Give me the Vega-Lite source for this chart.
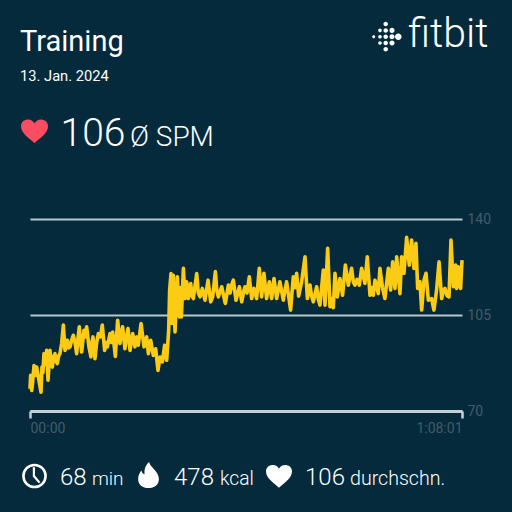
{
"$schema":"https://vega.github.io/schema/vega-lite/v6.json",
"autosize":"none","width":432,"height":192,
"padding":{"left":30,"top":219,"right":50,"bottom":101},
"background":"#042a3c",
"config":{"view":{"stroke":null},"font":"Roboto"},
"data":{"values":[
{"t":0,"v":78.1},{"t":6,"v":83},{"t":16,"v":77.5},{"t":25,"v":80.6},{"t":38,"v":86.6},{"t":50,"v":83},{"t":63,"v":86},{"t":79,"v":82.4},{"t":104,"v":76.9},{"t":113,"v":86},{"t":122,"v":84},{"t":132,"v":90.9},{"t":145,"v":87},{"t":157,"v":92.1},{"t":170,"v":81.2},{"t":189,"v":92.1},{"t":200,"v":87},{"t":211,"v":86},{"t":225,"v":90},{"t":236,"v":90.9},{"t":248,"v":88},{"t":258,"v":87.3},{"t":270,"v":90},{"t":283,"v":90.9},{"t":299,"v":94.6},{"t":315,"v":101.3},{"t":331,"v":92.1},{"t":342,"v":95},{"t":353,"v":95.8},{"t":365,"v":93},{"t":378,"v":93.4},{"t":395,"v":96},{"t":409,"v":97.6},{"t":425,"v":95},{"t":441,"v":90.9},{"t":452,"v":96},{"t":466,"v":100.7},{"t":478,"v":95},{"t":488,"v":91.5},{"t":510,"v":99.4},{"t":522,"v":97},{"t":535,"v":100.7},{"t":557,"v":93.4},{"t":576,"v":89.7},{"t":585,"v":95},{"t":595,"v":97},{"t":614,"v":89.1},{"t":630,"v":95},{"t":646,"v":98.2},{"t":665,"v":97},{"t":683,"v":101.3},{"t":705,"v":92.1},{"t":720,"v":95},{"t":731,"v":93.4},{"t":756,"v":98.2},{"t":768,"v":95},{"t":781,"v":98.8},{"t":806,"v":89.9},{"t":828,"v":103.1},{"t":850,"v":94.6},{"t":862,"v":98},{"t":875,"v":100.7},{"t":897,"v":92.7},{"t":912,"v":97},{"t":926,"v":100.1},{"t":945,"v":92.1},{"t":970,"v":98.2},{"t":992,"v":93.4},{"t":1008,"v":97},{"t":1023,"v":94},{"t":1049,"v":101.9},{"t":1077,"v":93.4},{"t":1090,"v":96},{"t":1102,"v":97},{"t":1118,"v":90.9},{"t":1140,"v":95.8},{"t":1165,"v":90.3},{"t":1187,"v":92.7},{"t":1209,"v":84.8},{"t":1228,"v":89.7},{"t":1250,"v":87.9},{"t":1272,"v":94},{"t":1291,"v":88.5},{"t":1310,"v":99.4},{"t":1319,"v":114},{"t":1332,"v":120.1},{"t":1341,"v":101.9},{"t":1354,"v":119.5},{"t":1370,"v":98.8},{"t":1392,"v":118.9},{"t":1411,"v":104.3},{"t":1420,"v":115},{"t":1430,"v":104.3},{"t":1449,"v":122},{"t":1464,"v":111},{"t":1480,"v":117.1},{"t":1496,"v":111},{"t":1518,"v":116.5},{"t":1530,"v":112},{"t":1543,"v":111},{"t":1575,"v":120.1},{"t":1590,"v":113},{"t":1606,"v":111.6},{"t":1628,"v":114.7},{"t":1653,"v":110.4},{"t":1682,"v":117.7},{"t":1707,"v":109.8},{"t":1726,"v":111.6},{"t":1751,"v":120.8},{"t":1765,"v":114},{"t":1779,"v":111.6},{"t":1811,"v":115.3},{"t":1845,"v":109.2},{"t":1874,"v":115.9},{"t":1890,"v":113},{"t":1905,"v":116},{"t":1921,"v":117.7},{"t":1946,"v":110.4},{"t":1978,"v":115.3},{"t":2000,"v":109.8},{"t":2015,"v":113},{"t":2031,"v":115.3},{"t":2050,"v":113},{"t":2072,"v":118.9},{"t":2094,"v":111},{"t":2116,"v":114.7},{"t":2141,"v":111},{"t":2166,"v":122},{"t":2188,"v":111.6},{"t":2210,"v":120.2},{"t":2235,"v":111},{"t":2261,"v":117.1},{"t":2283,"v":111},{"t":2305,"v":118.3},{"t":2330,"v":111},{"t":2345,"v":114},{"t":2361,"v":117.1},{"t":2393,"v":110.4},{"t":2408,"v":114},{"t":2424,"v":117.1},{"t":2462,"v":106.8},{"t":2487,"v":118.9},{"t":2505,"v":115},{"t":2519,"v":120.2},{"t":2538,"v":111.9},{"t":2566,"v":117.1},{"t":2598,"v":126.2},{"t":2620,"v":111},{"t":2645,"v":115.9},{"t":2660,"v":112},{"t":2676,"v":109.8},{"t":2708,"v":115.3},{"t":2722,"v":111},{"t":2739,"v":108.6},{"t":2771,"v":121.4},{"t":2787,"v":108.6},{"t":2812,"v":129.3},{"t":2834,"v":108},{"t":2850,"v":111},{"t":2865,"v":107.7},{"t":2881,"v":120.2},{"t":2903,"v":111.6},{"t":2928,"v":118.3},{"t":2953,"v":112.2},{"t":2979,"v":123.2},{"t":3007,"v":115.9},{"t":3022,"v":119},{"t":3038,"v":122},{"t":3055,"v":117},{"t":3070,"v":115.9},{"t":3090,"v":118},{"t":3111,"v":115.9},{"t":3133,"v":122},{"t":3164,"v":116.5},{"t":3186,"v":126.2},{"t":3212,"v":112.2},{"t":3228,"v":115},{"t":3243,"v":112.2},{"t":3259,"v":117.7},{"t":3290,"v":112.8},{"t":3306,"v":122},{"t":3330,"v":115},{"t":3353,"v":111},{"t":3370,"v":117},{"t":3385,"v":122},{"t":3407,"v":114.1},{"t":3426,"v":124.4},{"t":3448,"v":114.7},{"t":3464,"v":126.2},{"t":3495,"v":112.8},{"t":3511,"v":126.2},{"t":3533,"v":120.2},{"t":3558,"v":133.3},{"t":3583,"v":123.2},{"t":3605,"v":132.3},{"t":3627,"v":122},{"t":3646,"v":131.1},{"t":3662,"v":114.7},{"t":3684,"v":117.1},{"t":3700,"v":106.8},{"t":3722,"v":117.7},{"t":3741,"v":120.2},{"t":3763,"v":110.4},{"t":3794,"v":111},{"t":3816,"v":106.8},{"t":3841,"v":114.1},{"t":3864,"v":124.4},{"t":3889,"v":111},{"t":3905,"v":114},{"t":3920,"v":114.7},{"t":3940,"v":112},{"t":3958,"v":111.6},{"t":3977,"v":132.3},{"t":3999,"v":115.3},{"t":4010,"v":120},{"t":4021,"v":123.2},{"t":4030,"v":114.7},{"t":4045,"v":122.6},{"t":4058,"v":116},{"t":4068,"v":114.7},{"t":4081,"v":125}
]},
"layer":[
{"mark":{"type":"line","color":"#fccb14","strokeWidth":3.6,"strokeJoin":"round","clip":false},
"encoding":{
"x":{"field":"t","type":"quantitative","title":null,"scale":{"domain":[0,4081],"nice":false,"zero":false},
"axis":{"values":[0,4081],"labelExpr":"datum.value==0?'00:00':'1:08:01'","labelAlign":{"condition":{"test":"datum.value==0","value":"left"},"value":"right"},"grid":false,"domainColor":"#c3d0d8","domainWidth":3,"tickColor":"#c3d0d8","tickWidth":2.5,"tickSize":7,"labelColor":"#465b69","labelFontSize":14,"labelPadding":3,"labelFlush":false}},
"y":{"field":"v","type":"quantitative","title":null,"scale":{"domain":[70,140],"nice":false,"zero":false},
"axis":{"orient":"right","values":[70,105,140],"grid":true,"gridColor":"#b9c6ce","gridWidth":2,"gridOpacity":1,"domain":false,"ticks":false,"labelColor":"#465b69","labelFontSize":14,"labelPadding":5}}
}},
{"data":{"values":[{"s":"Training"}]},"mark":{"type":"text","x":-10,"y":-168,"align":"left","baseline":"alphabetic","fontSize":29,"color":"#ffffff","font":"Roboto"},"encoding":{"text":{"field":"s"}}},
{"data":{"values":[{"s":"13. Jan. 2024"}]},"mark":{"type":"text","x":-10,"y":-138,"align":"left","baseline":"alphabetic","fontSize":14.7,"color":"#ffffff","font":"Roboto"},"encoding":{"text":{"field":"s"}}},
{"data":{"values":[{"s":"fitbit"}]},"mark":{"type":"text","x":378,"y":-172,"align":"left","baseline":"alphabetic","fontSize":41,"fontWeight":300,"color":"#ffffff","font":"Roboto"},"encoding":{"text":{"field":"s"}}},
{"data":{"values":[{"s":"106"}]},"mark":{"type":"text","x":30.5,"y":-73,"align":"left","baseline":"alphabetic","fontSize":39,"fontWeight":300,"color":"#ffffff","font":"Roboto"},"encoding":{"text":{"field":"s"}}},
{"data":{"values":[{"s":"Ø SPM"}]},"mark":{"type":"text","x":100,"y":-73,"align":"left","baseline":"alphabetic","fontSize":28,"fontWeight":300,"color":"#ffffff","font":"Roboto"},"encoding":{"text":{"field":"s"}}},
{"data":{"values":[{"s":"68"}]},"mark":{"type":"text","x":30,"y":266,"align":"left","baseline":"alphabetic","fontSize":24,"fontWeight":300,"color":"#ffffff","font":"Roboto"},"encoding":{"text":{"field":"s"}}},
{"data":{"values":[{"s":"min"}]},"mark":{"type":"text","x":62,"y":266,"align":"left","baseline":"alphabetic","fontSize":19,"fontWeight":300,"color":"#ffffff","font":"Roboto"},"encoding":{"text":{"field":"s"}}},
{"data":{"values":[{"s":"478"}]},"mark":{"type":"text","x":144,"y":266,"align":"left","baseline":"alphabetic","fontSize":24,"fontWeight":300,"color":"#ffffff","font":"Roboto"},"encoding":{"text":{"field":"s"}}},
{"data":{"values":[{"s":"kcal"}]},"mark":{"type":"text","x":190,"y":266,"align":"left","baseline":"alphabetic","fontSize":19.3,"fontWeight":300,"color":"#ffffff","font":"Roboto"},"encoding":{"text":{"field":"s"}}},
{"data":{"values":[{"s":"106"}]},"mark":{"type":"text","x":275,"y":266,"align":"left","baseline":"alphabetic","fontSize":24,"fontWeight":300,"color":"#ffffff","font":"Roboto"},"encoding":{"text":{"field":"s"}}},
{"data":{"values":[{"s":"durchschn."}]},"mark":{"type":"text","x":320,"y":266,"align":"left","baseline":"alphabetic","fontSize":19.6,"fontWeight":300,"color":"#ffffff","font":"Roboto"},"encoding":{"text":{"field":"s"}}},
{"data":{"values":[{"i":"heart"}]},"mark":{"type":"point","filled":true,"opacity":1,"color":"#fb4d61","x":4.5,"y":-88,"size":729,"shape":"M0,0.9 C-0.3,0.6 -1,0.2 -1,-0.35 C-1,-0.7 -0.72,-0.85 -0.48,-0.85 C-0.25,-0.85 -0.08,-0.72 0,-0.55 C0.08,-0.72 0.25,-0.85 0.48,-0.85 C0.72,-0.85 1,-0.7 1,-0.35 C1,0.2 0.3,0.6 0,0.9 Z"},"encoding":{}},
{"data":{"values":[{"i":"heart2"}]},"mark":{"type":"point","filled":true,"opacity":1,"color":"#ffffff","x":249,"y":257,"size":676,"shape":"M0,0.9 C-0.3,0.6 -1,0.2 -1,-0.35 C-1,-0.7 -0.72,-0.85 -0.48,-0.85 C-0.25,-0.85 -0.08,-0.72 0,-0.55 C0.08,-0.72 0.25,-0.85 0.48,-0.85 C0.72,-0.85 1,-0.7 1,-0.35 C1,0.2 0.3,0.6 0,0.9 Z"},"encoding":{}},
{"data":{"values":[{"i":"flame"}]},"mark":{"type":"point","filled":true,"opacity":1,"color":"#ffffff","x":118.5,"y":256,"size":676,"shape":"M0.05,-1 C0.1,-0.6 0.8,-0.3 0.8,0.3 C0.8,0.75 0.45,1 0,1 C-0.45,1 -0.8,0.75 -0.8,0.3 C-0.8,0 -0.65,-0.2 -0.55,-0.35 C-0.5,-0.2 -0.45,-0.1 -0.3,-0.05 C-0.35,-0.45 -0.2,-0.8 0.05,-1 Z"},"encoding":{}},
{"data":{"values":[{"i":"clock"}]},"mark":{"type":"point","shape":"circle","filled":false,"opacity":1,"color":"#ffffff","strokeWidth":2.6,"x":4.5,"y":257,"size":490},"encoding":{}},
{"data":{"values":[{"i":"hands"}]},"mark":{"type":"point","filled":false,"opacity":1,"color":"#ffffff","strokeWidth":2.2,"x":4.5,"y":257,"size":576,"shape":"M-0.05,-0.72 L-0.05,0 L0.42,0.55"},"encoding":{}},
{"data":{"values":[{"i":"logo"}]},"mark":{"type":"point","filled":true,"opacity":1,"color":"#ffffff","x":355.7,"y":-182.3,"size":900,"shape":"M-0.9,0 a0.1,0.1 0 1 0 0.2,0 a0.1,0.1 0 1 0 -0.2,0 M-0.5,-0.42 a0.12,0.12 0 1 0 0.24,0 a0.12,0.12 0 1 0 -0.24,0 M-0.5,0 a0.12,0.12 0 1 0 0.24,0 a0.12,0.12 0 1 0 -0.24,0 M-0.5,0.42 a0.12,0.12 0 1 0 0.24,0 a0.12,0.12 0 1 0 -0.24,0 M-0.15,-0.84 a0.15,0.15 0 1 0 0.3,0 a0.15,0.15 0 1 0 -0.3,0 M-0.15,-0.42 a0.15,0.15 0 1 0 0.3,0 a0.15,0.15 0 1 0 -0.3,0 M-0.15,0 a0.15,0.15 0 1 0 0.3,0 a0.15,0.15 0 1 0 -0.3,0 M-0.15,0.42 a0.15,0.15 0 1 0 0.3,0 a0.15,0.15 0 1 0 -0.3,0 M-0.15,0.84 a0.15,0.15 0 1 0 0.3,0 a0.15,0.15 0 1 0 -0.3,0 M0.25,-0.42 a0.17,0.17 0 1 0 0.34,0 a0.17,0.17 0 1 0 -0.34,0 M0.25,0 a0.17,0.17 0 1 0 0.34,0 a0.17,0.17 0 1 0 -0.34,0 M0.25,0.42 a0.17,0.17 0 1 0 0.34,0 a0.17,0.17 0 1 0 -0.34,0 M0.62,0 a0.22,0.22 0 1 0 0.44,0 a0.22,0.22 0 1 0 -0.44,0"},"encoding":{}}
]
}
